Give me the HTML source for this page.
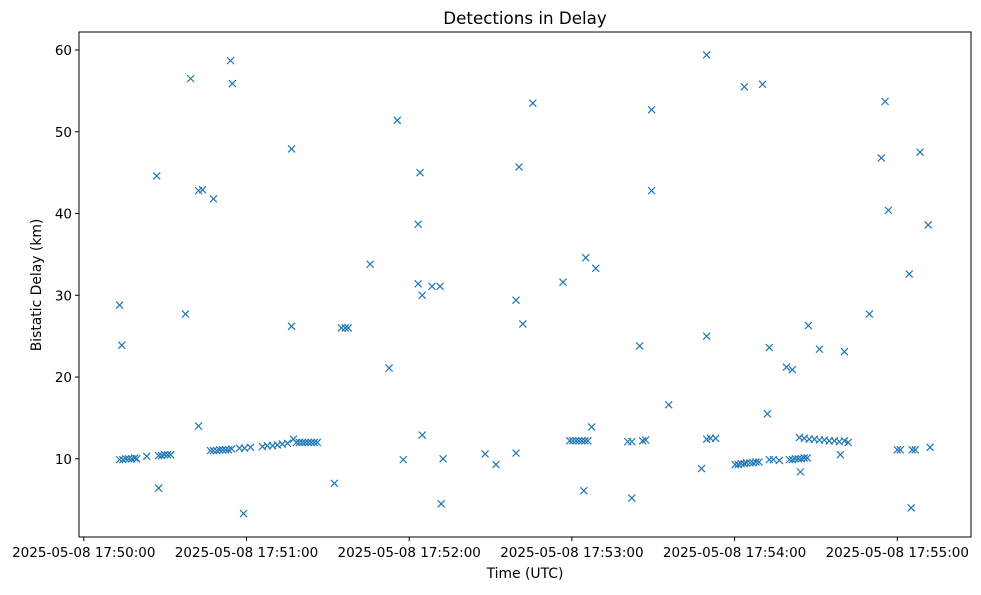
<!DOCTYPE html>
<html><head><meta charset="utf-8"><style>
body{margin:0;background:#fff;}
svg{font-family:"DejaVu Sans","Liberation Sans",sans-serif;}
</style></head><body>
<svg id="chart" width="981" height="590" xmlns="http://www.w3.org/2000/svg">
<rect x="0" y="0" width="981" height="590" fill="#fff"/>
<text x="525" y="24" text-anchor="middle" font-size="16.7" fill="#000">Detections in Delay</text>
<text x="525" y="578" text-anchor="middle" font-size="13.9" fill="#000">Time (UTC)</text>
<text x="41" y="285" text-anchor="middle" font-size="13.9" fill="#000" transform="rotate(-90 41 285)">Bistatic Delay (km)</text>
<g id="marks"></g>
<g id="axes"></g>
</svg>
<script>
// seconds after 17:50:00
const times = [13.2,14.0,13.2,14.4,15.5,16.6,17.7,18.8,19.5,23.2,26.9,27.6,27.6,28.7,29.8,30.9,32.0,37.5,39.4,42.3,42.3,43.8,47.8,
46.7,47.8,49.0,50.1,51.2,52.3,53.4,54.5,54.1,54.8,58.9,57.4,59.3,61.5,65.9,67.7,69.6,71.4,73.2,75.1,76.6,76.6,77.3,
78.4,79.5,80.6,81.7,82.8,83.9,85.0,86.1,92.4,95.0,96.4,97.5,105.6,112.6,115.6,117.8,123.3,124.0,123.3,124.8,124.8,128.4,131.4,132.5,131.8,
148.0,152.0,159.4,159.4,160.5,161.9,165.6,176.7,179.2,180.3,181.5,182.6,183.7,184.8,185.9,184.4,185.1,187.3,188.8,
200.6,202.1,202.1,205.0,206.1,207.2,209.4,209.4,215.7,227.8,229.7,229.7,229.7,231.1,233.0,
240.2,241.3,242.4,243.5,244.4,245.7,246.8,247.9,249.0,243.6,250.3,252.1,252.8,252.8,254.3,256.5,259.1,261.3,
260.2,261.3,262.4,263.5,264.6,265.7,266.8,264.3,267.2,263.9,265.7,267.5,269.4,271.3,273.1,274.9,276.8,278.6,271.3,279.0,280.5,281.9,280.5,
289.7,294.1,295.5,296.7,300.0,301.1,304.4,305.1,305.5,306.6,308.4,311.4,312.1];
const delays = [28.8,23.9,9.9,9.9,10.0,10.0,10.0,10.1,10.0,10.3,44.6,6.4,10.4,10.4,10.5,10.5,10.5,27.7,56.5,14.0,42.8,42.9,41.8,
11.0,11.0,11.0,11.1,11.1,11.1,11.1,11.2,58.7,55.9,3.3,11.3,11.3,11.4,11.5,11.6,11.6,11.7,11.8,11.9,47.9,26.2,12.4,
12.0,12.0,12.0,12.0,12.0,12.0,12.0,12.0,7.0,26.0,26.0,26.0,33.8,21.1,51.4,9.9,38.7,45.0,31.4,30.0,12.9,31.1,31.1,10.0,4.5,
10.6,9.3,29.4,10.7,45.7,26.5,53.5,31.6,12.2,12.2,12.2,12.2,12.2,12.2,12.2,6.1,34.6,13.9,33.3,
12.1,12.1,5.2,23.8,12.2,12.3,52.7,42.8,16.6,8.8,59.4,25.0,12.4,12.5,12.5,
9.3,9.3,9.4,9.4,9.5,9.5,9.5,9.6,9.6,55.5,55.8,15.5,23.6,9.9,9.9,9.8,21.2,20.9,
9.9,9.9,10.0,10.0,10.0,10.1,10.1,8.4,26.3,12.6,12.5,12.4,12.4,12.3,12.3,12.2,12.2,12.1,23.4,10.5,12.2,12.0,23.1,
27.7,46.8,53.7,40.4,11.1,11.1,32.6,4.0,11.1,11.1,47.5,38.6,11.4];
const yTicks = [10,20,30,40,50,60];
const xTickSecs = [0,60,120,180,240,300];
const xTickLabels = ["2025-05-08 17:50:00","2025-05-08 17:51:00","2025-05-08 17:52:00","2025-05-08 17:53:00","2025-05-08 17:54:00","2025-05-08 17:55:00"];

const NS="http://www.w3.org/2000/svg";
const L=79,R=971,T=32,B=537;
function xs(t){return 83.8+t*(246.5-83.8)/60;}
function ys(v){return 458.8-(v-10)*(458.8-50)/50;}
function mk(tag,attrs,parent){const e=document.createElementNS(NS,tag);for(const k in attrs)e.setAttribute(k,attrs[k]);parent.appendChild(e);return e;}
const marks=document.getElementById('marks');
for(let i=0;i<times.length;i++){
  const x=xs(times[i]),y=ys(delays[i]),s=3.5;
  const p=mk('path',{d:`M${x-s},${y-s}L${x+s},${y+s}M${x-s},${y+s}L${x+s},${y-s}`,stroke:'#1f77b4','stroke-width':1.2,fill:'none'},marks);
  
  
}
const ax=document.getElementById('axes');
const frame=mk('rect',{x:L,y:T,width:R-L,height:B-T,fill:'none',stroke:'#000','stroke-width':1},ax);


yTicks.forEach(v=>{
  const y=ys(v);
  const tk=mk('line',{x1:L-4,x2:L,y1:y,y2:y,stroke:'#000'},ax);
  
  
  const tx=mk('text',{x:L-7,y:y+5,'text-anchor':'end','font-size':13.5,fill:'#000'},ax);
  tx.textContent=v;
  
  
});
xTickSecs.forEach((s,i)=>{
  const x=xs(s);
  const tk=mk('line',{x1:x,x2:x,y1:B,y2:B+4,stroke:'#000'},ax);
  
  
  const tx=mk('text',{x:x,y:B+20,'text-anchor':'middle','font-size':13.5,fill:'#000'},ax);
  tx.textContent=xTickLabels[i];
  
  
});
</script>
</body></html>
